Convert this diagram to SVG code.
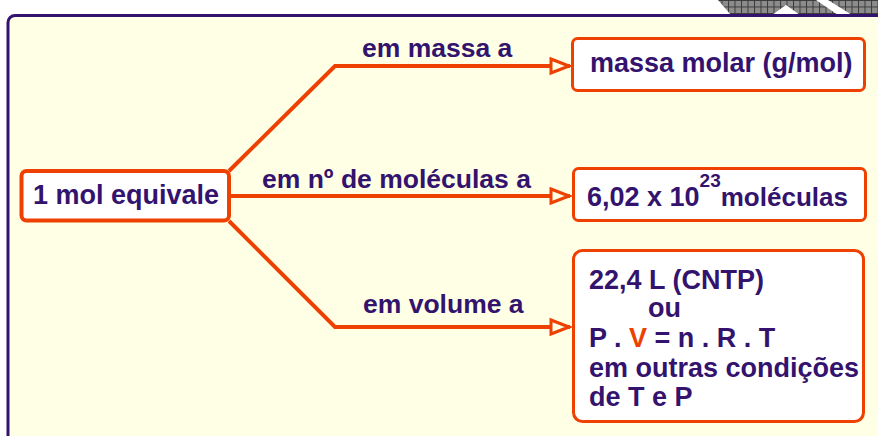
<svg xmlns="http://www.w3.org/2000/svg" width="878" height="436" viewBox="0 0 878 436">
<style>
.t{font-family:"Liberation Sans",Arial,sans-serif;font-weight:bold;font-size:27px;fill:#33136E}
.lbl{font-size:26.5px}
.box{fill:#FFFFFF;stroke:#EE4000;stroke-width:3}
.conn{fill:none;stroke:#EE4000;stroke-width:4;stroke-linejoin:miter}
.red{fill:#EE4000}
</style>
<defs>
<pattern id="hatch" width="6.5" height="6.5" patternUnits="userSpaceOnUse">
<rect width="6.5" height="6.5" fill="#8C8C8C"/>
<path d="M0,0.5H6.5M0.5,0V6.5" stroke="#3A3A3A" stroke-width="1"/>
</pattern>
<marker id="arr" markerUnits="userSpaceOnUse" markerWidth="24" markerHeight="20" viewBox="-3 -3 24 20" refX="19" refY="7" orient="auto">
<path d="M0,0 L18,7 L0,14 Z" fill="#FFFFE6" stroke="#EE4000" stroke-width="3"/>
</marker>
</defs>
<rect width="878" height="436" fill="#FFFFFF"/>
<g id="decoration">
<path d="M718,0 L816,0 L838,15 L800,15 L786,5 L772,15 L731,15 Z" fill="url(#hatch)"/>
<path d="M828,0 L878,0 L878,15 L852,15 Z" fill="url(#hatch)"/>
</g>
<rect id="panel" x="8" y="15.5" width="900" height="460" rx="7" fill="#FFFFE6" stroke="#33136E" stroke-width="3"/>
<g id="connectors">
<path class="conn" d="M229,171 L335,66 L570,66" marker-end="url(#arr)"/>
<path class="conn" d="M229,196 L570,196" marker-end="url(#arr)"/>
<path class="conn" d="M229,221 L335,327 L570,327" marker-end="url(#arr)"/>
<text class="t lbl" x="362" y="57">em massa a</text>
<text class="t lbl" x="262" y="188">em nº de moléculas a</text>
<text class="t lbl" x="363" y="313">em volume a</text>
</g>
<g id="node-mol">
<rect class="box" x="21.5" y="171" width="207.5" height="49.5" rx="5" style="stroke-width:4"/>
<text class="t" x="33" y="204">1 mol equivale</text>
</g>
<g id="node-massa">
<rect class="box" x="572.5" y="38.5" width="292" height="52" rx="5"/>
<text class="t" x="590" y="72">massa molar (g/mol)</text>
</g>
<g id="node-moleculas">
<rect class="box" x="573.5" y="168.5" width="292" height="52" rx="5"/>
<text class="t" x="587" y="206">6,02 x 10<tspan font-size="19" dy="-19">23</tspan><tspan dy="19" font-size="26">moléculas</tspan></text>
</g>
<g id="node-volume">
<rect class="box" x="573.5" y="250.5" width="290" height="171" rx="9"/>
<text class="t" x="589" y="289">22,4 L (CNTP)</text>
<text class="t" x="648" y="317">ou</text>
<text class="t" x="589" y="347">P . <tspan class="red">V</tspan> = n . R . T</text>
<text class="t" x="589" y="377">em outras condições</text>
<text class="t" x="589" y="406">de T e P</text>
</g>
</svg>
